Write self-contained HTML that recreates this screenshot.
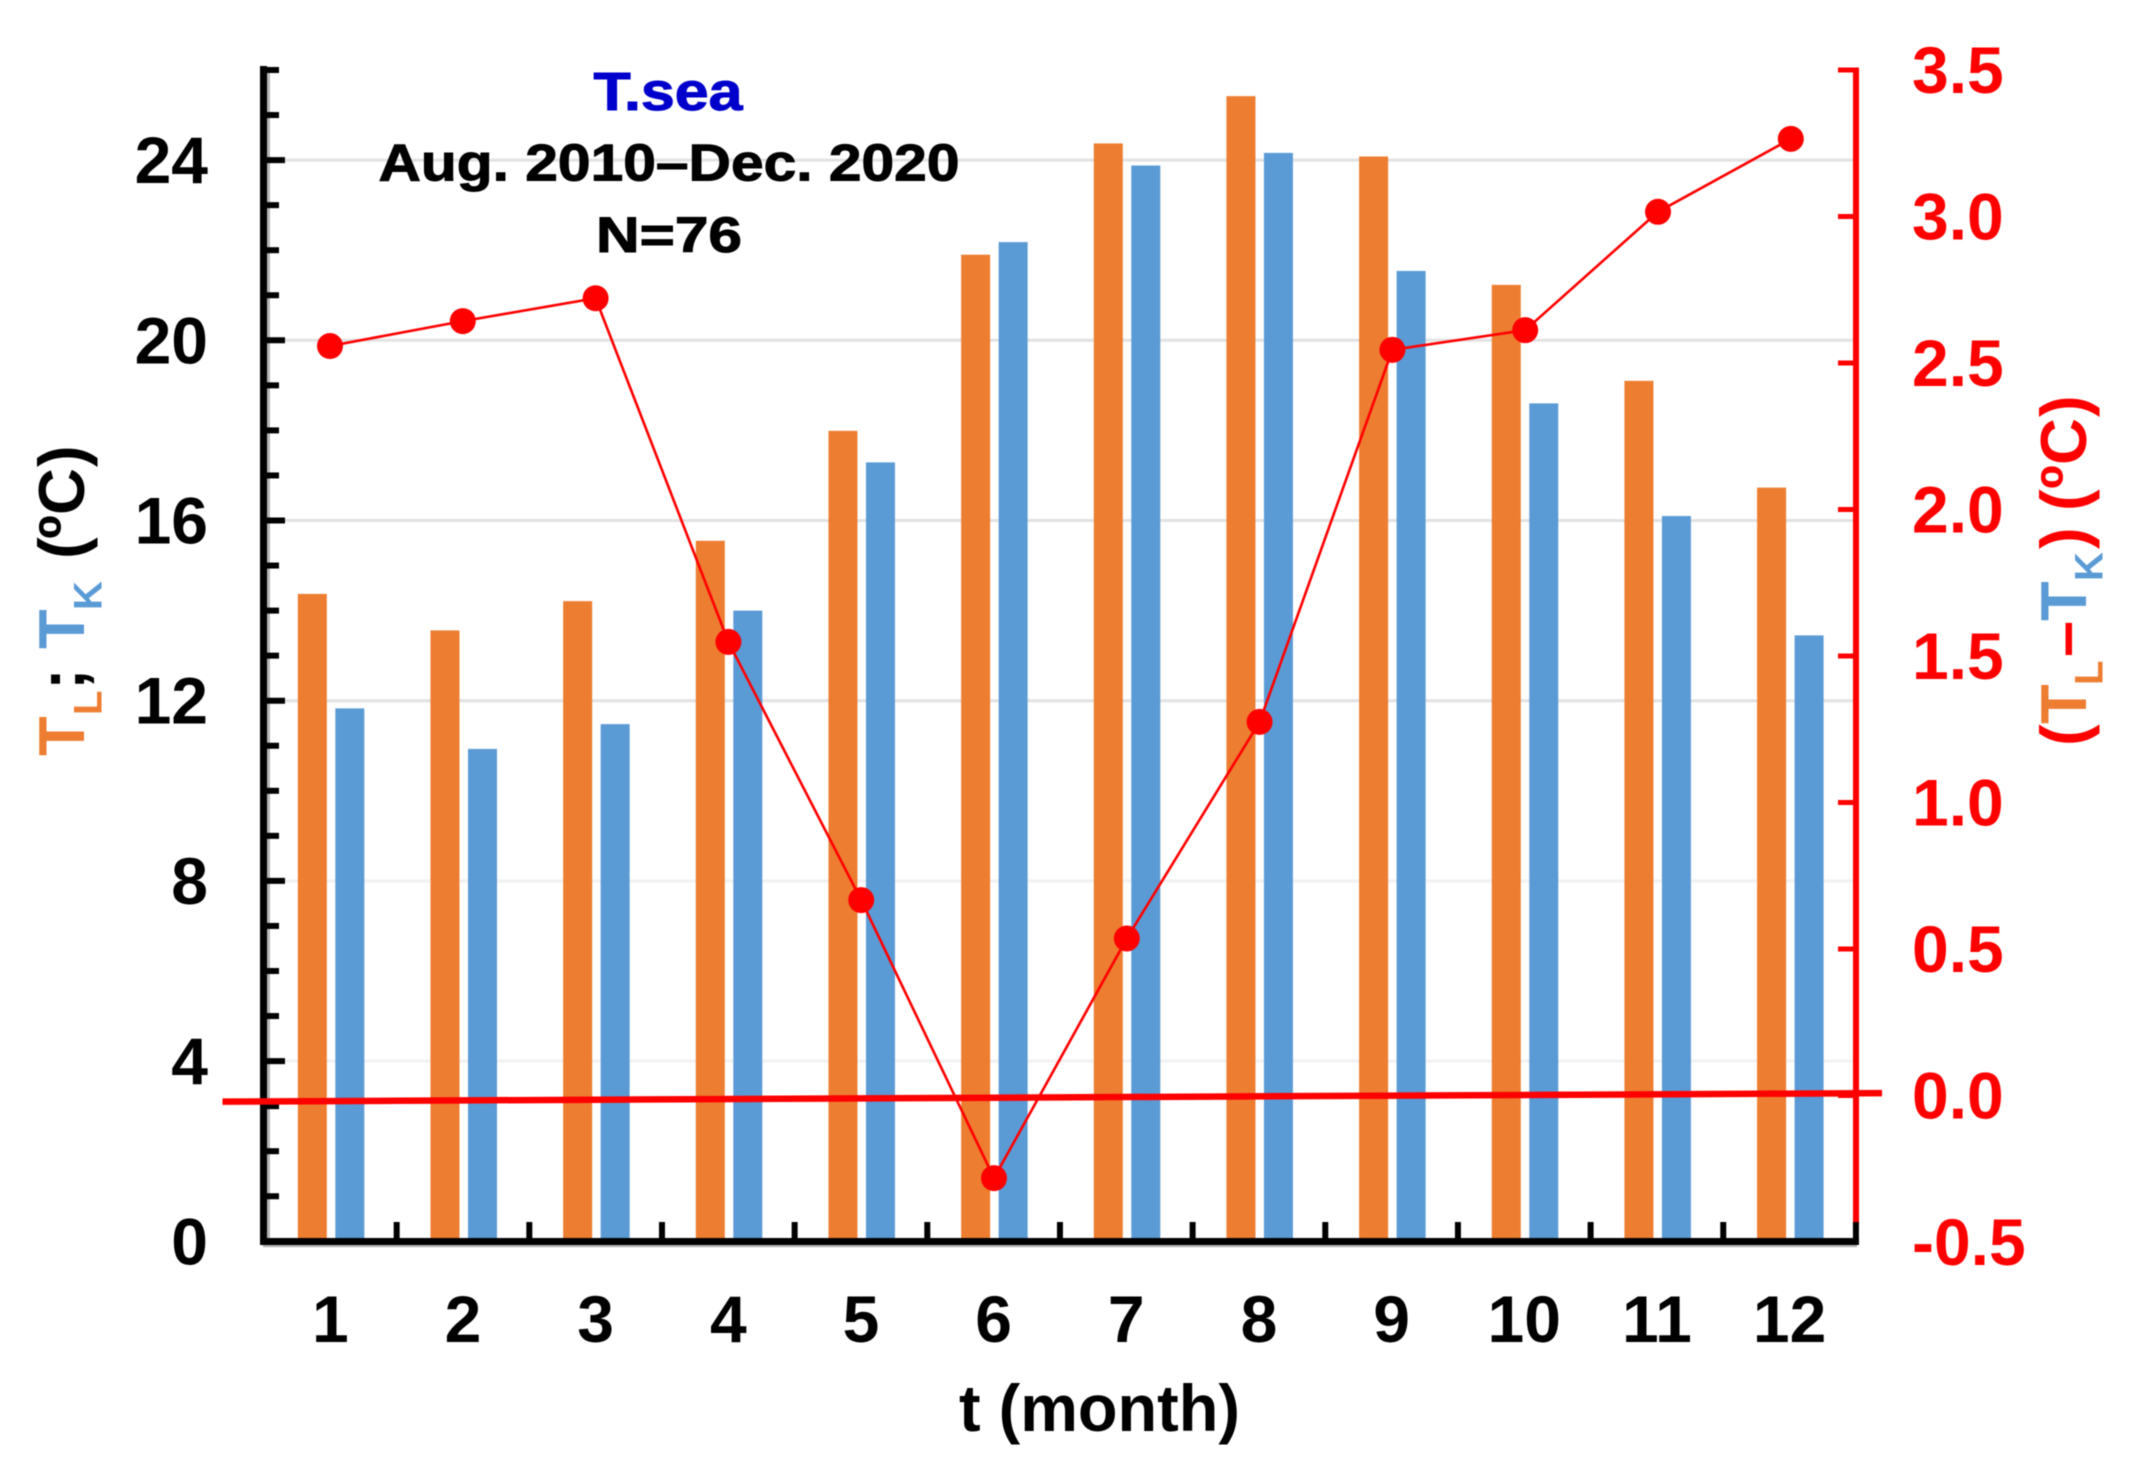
<!DOCTYPE html>
<html lang="en">
<head>
<meta charset="utf-8">
<title>T.sea monthly temperatures</title>
<style>
html,body{margin:0;padding:0;background:#fff;width:2138px;height:1470px;overflow:hidden}
svg{display:block;filter:blur(0.6px)}
text{font-family:"Liberation Sans",Arial,sans-serif;font-weight:700}
</style>
</head>
<body>
<svg id="chart" xmlns="http://www.w3.org/2000/svg" width="2138" height="1470" viewBox="0 0 2138 1470">
  <g id="grid"></g>
  <g id="bars"></g>
  <g id="axes"></g>
  <g id="labels"></g>
  <g id="lineLayer"></g>

  <text x="668" y="110" font-size="54" fill="#0000cc" stroke="#0000cc" stroke-width="1" text-anchor="middle" textLength="149" lengthAdjust="spacingAndGlyphs">T.sea</text>
  <text x="669" y="180.5" font-size="52" fill="#000" stroke="#000" stroke-width="1" text-anchor="middle" textLength="581" lengthAdjust="spacingAndGlyphs">Aug. 2010–Dec. 2020</text>
  <text x="669" y="252" font-size="50" fill="#000" stroke="#000" stroke-width="1" text-anchor="middle" textLength="146" lengthAdjust="spacingAndGlyphs">N=76</text>

  <text x="959" y="1431" font-size="66" fill="#000" textLength="281" lengthAdjust="spacingAndGlyphs">t (month)</text>

  <text transform="translate(84,755) rotate(-90)" font-size="65"><tspan x="-1" y="0" fill="#ED7D31">T</tspan><tspan x="40" y="17.7" font-size="40" fill="#ED7D31">L</tspan><tspan x="65" y="0" fill="#000">;</tspan><tspan x="106" y="0" fill="#5B9BD5">T</tspan><tspan x="145" y="17.7" font-size="40" fill="#5B9BD5">K</tspan><tspan x="196" y="0" fill="#000">(</tspan><tspan x="216" y="0" fill="#000">º</tspan><tspan x="240" y="0" fill="#000">C</tspan><tspan x="288" y="0" fill="#000">)</tspan></text>

  <text transform="translate(2086,743) rotate(-90)" font-size="65"><tspan x="-3" y="0" fill="#ff0000">(</tspan><tspan x="19" y="0" fill="#ED7D31">T</tspan><tspan x="58" y="16.7" font-size="40" fill="#ED7D31">L</tspan><tspan x="86" y="0" fill="#ff0000">–</tspan><tspan x="122" y="0" fill="#5B9BD5">T</tspan><tspan x="162" y="16.7" font-size="40" fill="#5B9BD5">K</tspan><tspan x="194" y="0" fill="#ff0000">)</tspan><tspan x="232" y="0" fill="#ff0000">(</tspan><tspan x="254" y="0" fill="#ff0000">º</tspan><tspan x="278" y="0" fill="#ff0000">C</tspan><tspan x="326" y="0" fill="#ff0000">)</tspan></text>
</svg>
<script>
const months = ['1','2','3','4','5','6','7','8','9','10','11','12'];
const seriesTL = [14.37,13.56,14.21,15.55,17.99,21.9,24.37,25.42,24.08,21.23,19.1,16.73];
const seriesTK = [11.83,10.93,11.48,14.0,17.29,22.18,23.88,24.16,21.54,18.6,16.1,13.45];
const seriesDiff = [2.558,2.643,2.721,1.548,0.667,-0.282,0.536,1.275,2.545,2.612,3.016,3.265];
const leftTickLabels = [0,4,8,12,16,20,24];
const leftMinorTicks = [1,2,3,5,6,7,9,10,11,13,14,15,17,18,19,21,22,23,25,26];
const rightTickLabels = ['-0.5','0.0','0.5','1.0','1.5','2.0','2.5','3.0','3.5'];
const zeroLineEnds = [-0.021,0.008];

const NS = 'http://www.w3.org/2000/svg';
const yLeft = v => 1241.3 - 45.05 * v;
const yRight = v => 1095.5 - 293 * v;
const xEdge = i => 264 + 132.66 * i;
const xCenter = i => xEdge(i + 0.5);
const xPoint = i => 330 + 132.8 * i;

function make(tag, parent, props, txt) {
  const el = document.createElementNS(NS, tag);
  for (const k in props) el.setAttribute(k, props[k]);
  if (txt !== undefined) el.textContent = txt;
  parent.appendChild(el);
  return el;
}
const gridG = document.getElementById('grid');
const barsG = document.getElementById('bars');
const axesG = document.getElementById('axes');
const labelsG = document.getElementById('labels');
const lineG = document.getElementById('lineLayer');

leftTickLabels.forEach(v => {
  if (v === 0) return;
  const g = make('line', gridG, {x1: 284, x2: 1853, y1: yLeft(v), y2: yLeft(v), stroke: v <= 8 ? '#f1f1f1' : '#e2e2e2', 'stroke-width': 3});
  
  
});

months.forEach((m, i) => {
  const c = xCenter(i);
  const yo = yLeft(seriesTL[i]);
  const o = make('rect', barsG, {x: c - 32.5, y: yo, width: 29, height: yLeft(0) - yo, fill: '#ED7D31'});
  
  
  const yb = yLeft(seriesTK[i]);
  const b = make('rect', barsG, {x: c + 5, y: yb, width: 29, height: yLeft(0) - yb, fill: '#5B9BD5'});
  
  
  const t = make('text', labelsG, {x: c, y: 1342, 'font-size': 66, 'text-anchor': 'middle', fill: '#000'}, m);
  
  
});

const rAxis = make('line', axesG, {x1: 1856, x2: 1856, y1: yRight(3.5) - 2.5, y2: 1225, stroke: '#ff0000', 'stroke-width': 6});



rightTickLabels.forEach(s => {
  const v = parseFloat(s);
  const y = yRight(v);
  if (v > -0.5) {
    const tk = make('line', axesG, {x1: 1838, x2: 1856, y1: y, y2: y, stroke: '#ff0000', 'stroke-width': 5});
    
    
  }
  const t = make('text', labelsG, {x: 1912, y: y + 23, 'font-size': 66, fill: '#ff0000'}, s);
  
  
});

const lShadow = make('line', axesG, {x1: 268.5, x2: 268.5, y1: 72, y2: 1240, stroke: '#b5b5b5', 'stroke-width': 3});


const lAxis = make('line', axesG, {x1: 263.5, x2: 263.5, y1: 66, y2: 1245, stroke: '#000', 'stroke-width': 7});



leftMinorTicks.forEach(v => {
  const tk = make('line', axesG, {x1: 263.5, x2: 279, y1: yLeft(v), y2: yLeft(v), stroke: '#000', 'stroke-width': 6});
  
  
});
leftTickLabels.forEach(v => {
  if (v > 0) {
    const tk = make('line', axesG, {x1: 263.5, x2: 285, y1: yLeft(v), y2: yLeft(v), stroke: '#000', 'stroke-width': 6});
    
    
  }
  const t = make('text', labelsG, {x: 208, y: yLeft(v) + 23, 'font-size': 66, 'text-anchor': 'end', fill: '#000'}, String(v));
  
  
});

const xShadow = make('line', axesG, {x1: 263, x2: 1857, y1: 1246, y2: 1246, stroke: '#b5b5b5', 'stroke-width': 2.5});


const xAxis = make('line', axesG, {x1: 260, x2: 1859, y1: 1241.5, y2: 1241.5, stroke: '#000', 'stroke-width': 7});


months.forEach((m, i) => {
  const x = xEdge(i + 1);
  const tk = make('line', axesG, {x1: x, x2: x, y1: 1222, y2: 1242, stroke: '#000', 'stroke-width': 6});
  
  
});

const zero = make('line', lineG, {x1: 222.5, x2: 1882, y1: yRight(zeroLineEnds[0]), y2: yRight(zeroLineEnds[1]), stroke: '#ff0000', 'stroke-width': 6.5});



const pts = seriesDiff.map((v, i) => xPoint(i) + ',' + yRight(v)).join(' ');
const poly = make('polyline', lineG, {points: pts, fill: 'none', stroke: '#ff0000', 'stroke-width': 2.6});


seriesDiff.forEach((v, i) => {
  const p = make('circle', lineG, {cx: xPoint(i), cy: yRight(v), r: 13, fill: '#ff0000'});
  
  
});
</script>
</body>
</html>
